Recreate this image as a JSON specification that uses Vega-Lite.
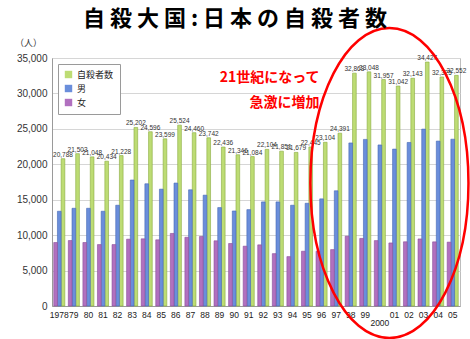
{
  "$schema": "https://vega.github.io/schema/vega-lite/v6.json",
  "autosize": {"type": "none"},
  "padding": {"left": 52, "top": 58, "right": 10, "bottom": 33},
  "width": 408,
  "height": 248,
  "background": "white",
  "config": {
    "font": "Liberation Sans",
    "view": {"stroke": "#bdbdbd", "strokeWidth": 1}
  },
  "title": {
    "text": "自 殺 大 国 : 日 本 の 自 殺 者 数",
    "font": "Noto Sans CJK JP",
    "fontSize": 22,
    "fontWeight": "bold",
    "color": "#000000",
    "anchor": "middle",
    "dx": -21,
    "dy": 15,
    "offset": 7
  },
  "datasets": {
    "main": [
      {"year": "1978", "series": "自殺者数", "value": 20788}, {"year": "1978", "series": "男", "value": 13370}, {"year": "1978", "series": "女", "value": 8960},
      {"year": "1979", "series": "自殺者数", "value": 21503}, {"year": "1979", "series": "男", "value": 13790}, {"year": "1979", "series": "女", "value": 9240},
      {"year": "1980", "series": "自殺者数", "value": 21048}, {"year": "1980", "series": "男", "value": 13790}, {"year": "1980", "series": "女", "value": 8960},
      {"year": "1981", "series": "自殺者数", "value": 20434}, {"year": "1981", "series": "男", "value": 13370}, {"year": "1981", "series": "女", "value": 8670},
      {"year": "1982", "series": "自殺者数", "value": 21228}, {"year": "1982", "series": "男", "value": 14220}, {"year": "1982", "series": "女", "value": 8670},
      {"year": "1983", "series": "自殺者数", "value": 25202}, {"year": "1983", "series": "男", "value": 17780}, {"year": "1983", "series": "女", "value": 9430},
      {"year": "1984", "series": "自殺者数", "value": 24596}, {"year": "1984", "series": "男", "value": 17250}, {"year": "1984", "series": "女", "value": 9480},
      {"year": "1985", "series": "自殺者数", "value": 23599}, {"year": "1985", "series": "男", "value": 16490}, {"year": "1985", "series": "女", "value": 9340},
      {"year": "1986", "series": "自殺者数", "value": 25524}, {"year": "1986", "series": "男", "value": 17350}, {"year": "1986", "series": "女", "value": 10240},
      {"year": "1987", "series": "自殺者数", "value": 24460}, {"year": "1987", "series": "男", "value": 16400}, {"year": "1987", "series": "女", "value": 9700},
      {"year": "1988", "series": "自殺者数", "value": 23742}, {"year": "1988", "series": "男", "value": 15640}, {"year": "1988", "series": "女", "value": 9810},
      {"year": "1989", "series": "自殺者数", "value": 22436}, {"year": "1989", "series": "男", "value": 13890}, {"year": "1989", "series": "女", "value": 9200},
      {"year": "1990", "series": "自殺者数", "value": 21346}, {"year": "1990", "series": "男", "value": 13410}, {"year": "1990", "series": "女", "value": 8820},
      {"year": "1991", "series": "自殺者数", "value": 21084}, {"year": "1991", "series": "男", "value": 13600}, {"year": "1991", "series": "女", "value": 8440},
      {"year": "1992", "series": "自殺者数", "value": 22104}, {"year": "1992", "series": "男", "value": 14690}, {"year": "1992", "series": "女", "value": 8630},
      {"year": "1993", "series": "自殺者数", "value": 21851}, {"year": "1993", "series": "男", "value": 14690}, {"year": "1993", "series": "女", "value": 7390},
      {"year": "1994", "series": "自殺者数", "value": 21679}, {"year": "1994", "series": "男", "value": 14220}, {"year": "1994", "series": "女", "value": 6970},
      {"year": "1995", "series": "自殺者数", "value": 22445}, {"year": "1995", "series": "男", "value": 14500}, {"year": "1995", "series": "女", "value": 7730},
      {"year": "1996", "series": "自殺者数", "value": 23104}, {"year": "1996", "series": "男", "value": 15120}, {"year": "1996", "series": "女", "value": 7730},
      {"year": "1997", "series": "自殺者数", "value": 24391}, {"year": "1997", "series": "男", "value": 16260}, {"year": "1997", "series": "女", "value": 7960},
      {"year": "1998", "series": "自殺者数", "value": 32863}, {"year": "1998", "series": "男", "value": 23013}, {"year": "1998", "series": "女", "value": 9850},
      {"year": "1999", "series": "自殺者数", "value": 33048}, {"year": "1999", "series": "男", "value": 23512}, {"year": "1999", "series": "女", "value": 9536},
      {"year": "2000", "series": "自殺者数", "value": 31957}, {"year": "2000", "series": "男", "value": 22727}, {"year": "2000", "series": "女", "value": 9230},
      {"year": "2001", "series": "自殺者数", "value": 31042}, {"year": "2001", "series": "男", "value": 22144}, {"year": "2001", "series": "女", "value": 8898},
      {"year": "2002", "series": "自殺者数", "value": 32143}, {"year": "2002", "series": "男", "value": 23080}, {"year": "2002", "series": "女", "value": 9063},
      {"year": "2003", "series": "自殺者数", "value": 34427}, {"year": "2003", "series": "男", "value": 24963}, {"year": "2003", "series": "女", "value": 9464},
      {"year": "2004", "series": "自殺者数", "value": 32325}, {"year": "2004", "series": "男", "value": 23272}, {"year": "2004", "series": "女", "value": 9053},
      {"year": "2005", "series": "自殺者数", "value": 32552}, {"year": "2005", "series": "男", "value": 23540}, {"year": "2005", "series": "女", "value": 9012}
    ],
    "ellipse": [{"year": "2001", "value": 17360}],
    "notes": [
      {"year": "1996", "value": 32180, "text": "21世紀になって"},
      {"year": "1996", "value": 28650, "text": "急激に増加"}
    ]
  },
  "encoding": {
    "x": {
      "field": "year",
      "type": "ordinal",
      "scale": {"paddingInner": 0.24, "paddingOuter": 0.12},
      "axis": {
        "title": null,
        "labelAngle": 0,
        "labelFont": "Liberation Sans",
        "labelFontSize": 8.5,
        "labelColor": "#222222",
        "ticks": false,
        "domainColor": "#9a9a9a",
        "labelExpr": "datum.value == '1978' || datum.value == '2000' ? datum.value : substring(datum.value, 2)",
        "labelPadding": {"condition": {"test": "datum.value == '2000'", "value": 12}, "value": 4}
      }
    },
    "y": {
      "field": "value",
      "type": "quantitative",
      "scale": {"domain": [0, 35000], "nice": false},
      "axis": {
        "title": "（人）",
        "titleAngle": 0,
        "titleFont": "Noto Sans CJK JP",
        "titleFontSize": 9,
        "titleFontWeight": "normal",
        "titleColor": "#333333",
        "titleX": -24,
        "titleY": -11,
        "titleAlign": "center",
        "values": [0, 5000, 10000, 15000, 20000, 25000, 30000, 35000],
        "format": ",d",
        "labelFont": "Liberation Sans",
        "labelFontSize": 10,
        "labelColor": "#333333",
        "labelPadding": 5,
        "ticks": false,
        "domainColor": "#9a9a9a",
        "gridColor": "#d6d6d6",
        "gridWidth": 1
      }
    }
  },
  "layer": [
    {
      "data": {"name": "main"},
      "mark": {"type": "bar", "strokeWidth": 0.6},
      "encoding": {
        "xOffset": {"field": "series", "type": "nominal", "sort": ["女", "男", "自殺者数"], "scale": {"paddingInner": 0}},
        "color": {
          "field": "series",
          "type": "nominal",
          "scale": {"domain": ["自殺者数", "男", "女"], "range": ["#bddc74", "#6a8edb", "#b170bf"]},
          "legend": {
            "title": null,
            "orient": "none",
            "legendX": 6,
            "legendY": 6,
            "direction": "vertical",
            "symbolType": "square",
            "symbolSize": 55,
            "symbolStrokeWidth": 0,
            "labelFont": "Noto Sans CJK JP",
            "labelFontSize": 9,
            "labelColor": "#222222",
            "rowPadding": 4,
            "padding": 6,
            "fillColor": "white",
            "strokeColor": "#9a9a9a",
            "cornerRadius": 0
          }
        },
        "stroke": {
          "field": "series",
          "type": "nominal",
          "scale": {"domain": ["自殺者数", "男", "女"], "range": ["#8aab3e", "#4568b5", "#8a4d98"]},
          "legend": null
        }
      }
    },
    {
      "data": {"name": "main"},
      "transform": [{"filter": "datum.series == '自殺者数'"}],
      "mark": {"type": "text", "baseline": "bottom", "dy": -1, "fontSize": 6.5, "font": "Liberation Sans", "color": "#333333"},
      "encoding": {
        "xOffset": {"field": "series", "type": "nominal", "sort": ["女", "男", "自殺者数"]},
        "text": {"field": "value", "type": "quantitative", "format": ",d"}
      }
    },
    {
      "data": {"name": "ellipse"},
      "mark": {
        "type": "point",
        "filled": false,
        "shape": "M0,-1C0.2817,-1,0.51,-0.5523,0.51,0C0.51,0.5523,0.2817,1,0,1C-0.2817,1,-0.51,0.5523,-0.51,0C-0.51,-0.5523,-0.2817,-1,0,-1Z",
        "size": 96100,
        "stroke": "#ff0000",
        "strokeWidth": 2.5,
        "opacity": 1,
        "xOffset": -5
      },
      "encoding": {}
    },
    {
      "data": {"name": "notes"},
      "mark": {"type": "text", "align": "right", "baseline": "middle", "dx": -2, "font": "Noto Sans CJK JP", "fontSize": 14, "fontWeight": "bold", "color": "#ff0000"},
      "encoding": {
        "text": {"field": "text", "type": "nominal"}
      }
    }
  ]
}
